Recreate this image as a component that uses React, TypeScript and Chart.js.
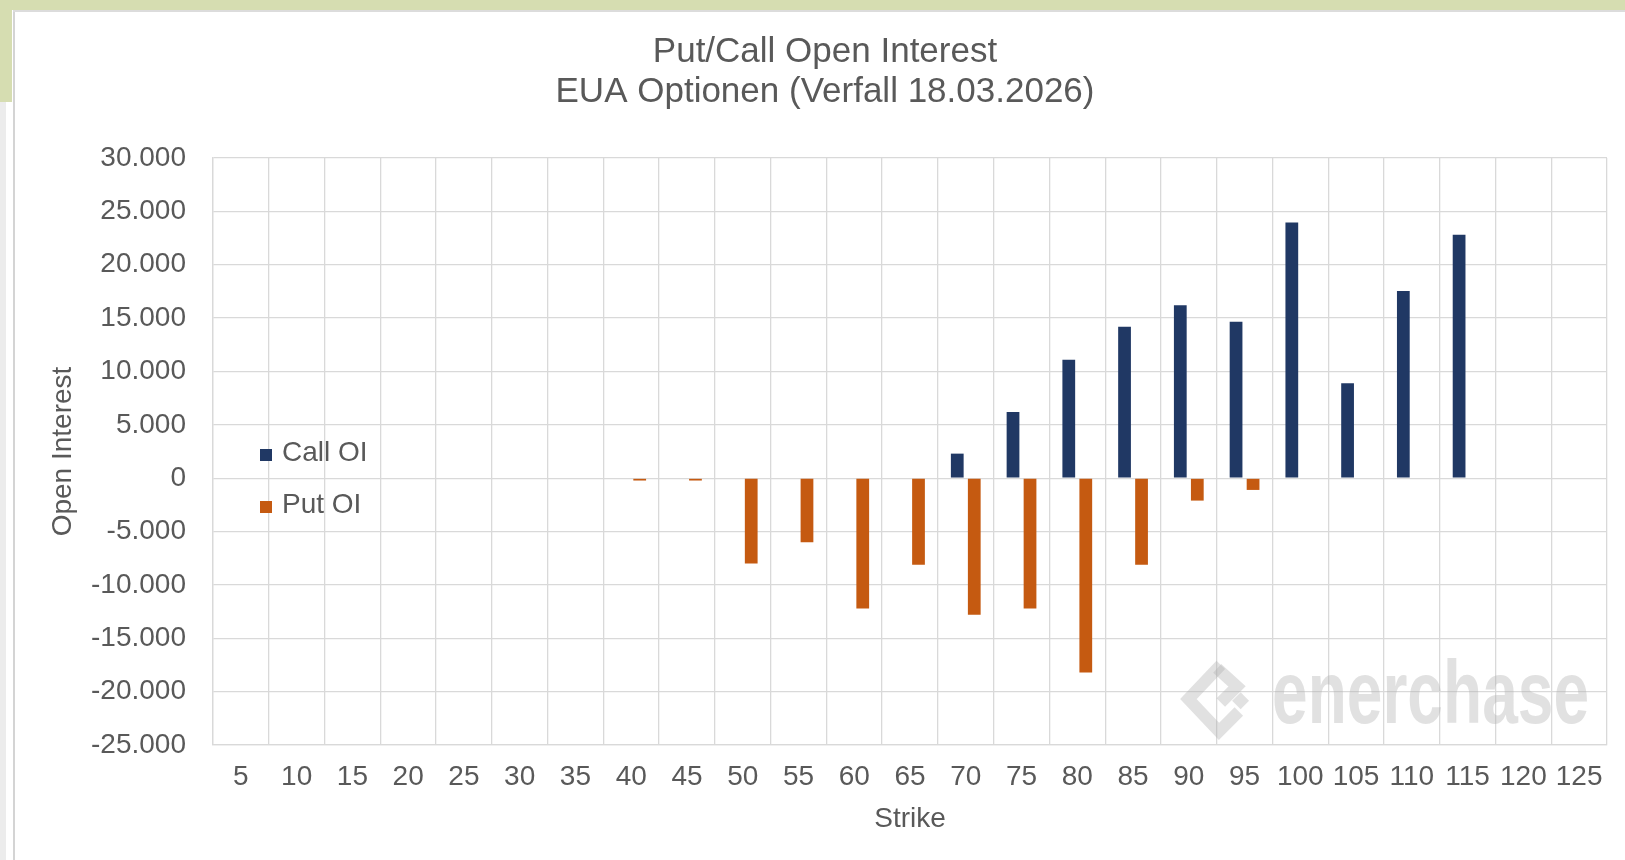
import React, { useEffect, useRef } from "react";
import { Chart, registerables } from "chart.js";

Chart.register(...registerables);

const strikes = ["5", "10", "15", "20", "25", "30", "35", "40", "45", "50", "55", "60", "65", "70", "75", "80", "85", "90", "95", "100", "105", "110", "115", "120", "125"];
const callOI = [null, null, null, null, null, null, null, null, null, null, null, null, null, 2300, 6200, 11100, 14200, 16200, 14650, 23950, 8900, 17550, 22800, null, null];
const putOI = [null, null, null, null, null, null, null, -220, -220, -8000, -6000, -12200, -8100, -12800, -12200, -18200, -8100, -2100, -1100, null, null, null, null, null, null];
const titleLines = ["Put/Call Open Interest", "EUA Optionen (Verfall 18.03.2026)"];
const seriesNames = ["Call OI", "Put OI"];
const seriesColors = ["#203864", "#C55A11"];

const FONT = "'Liberation Sans', Arial, sans-serif";
const TEXT = "#595959";
const GRID = "#d9d9d9";

function fmtDE(v: number): string {
  const neg = v < 0;
  const s = Math.abs(Math.round(v)).toString();
  const parts: string[] = [];
  for (let i = s.length; i > 0; i -= 3) parts.unshift(s.slice(Math.max(0, i - 3), i));
  return (neg ? "-" : "") + parts.join(".");
}

const overlayPlugin = {
  id: "overlay",
  afterDatasetsDraw(chart: any) {
    const ctx = chart.ctx as CanvasRenderingContext2D;
    const ca = chart.chartArea;
    ctx.save();
    // watermark
    const col = "rgba(175,175,175,0.38)";
    ctx.fillStyle = col;
    ctx.strokeStyle = col;
    const tx = ca.right - 335;
    const ty = ca.bottom - 22;
    ctx.save();
    ctx.translate(tx, ty);
    ctx.scale(0.72, 1);
    ctx.font = `bold 89px ${FONT}`;
    ctx.textBaseline = "alphabetic";
    ctx.textAlign = "left";
    ctx.fillText("enerchase", 0, 0);
    ctx.restore();
    const cx = tx - 53;
    const cy = ty - 24;
    const r = 36;
    ctx.lineWidth = 12;
    ctx.lineJoin = "miter";
    ctx.beginPath();
    ctx.moveTo(cx + 0.05 * r, cy - r * 0.95);
    ctx.lineTo(cx - r * 0.85, cy);
    ctx.lineTo(cx, cy + r * 0.9);
    ctx.lineTo(cx + r * 0.55, cy + r * 0.35);
    ctx.stroke();
    ctx.beginPath();
    ctx.moveTo(cx - 0.05 * r, cy - r * 0.85);
    ctx.lineTo(cx + r * 0.5, cy - r * 0.35);
    ctx.lineTo(cx + r * 0.05, cy + r * 0.1);
    ctx.stroke();
    ctx.save();
    ctx.translate(cx + r * 0.6, cy + r * 0.05);
    ctx.rotate(Math.PI / 4);
    ctx.fillRect(-6, -6, 12, 12);
    ctx.restore();
    ctx.restore();
  },
  afterDraw(chart: any) {
    const ctx = chart.ctx as CanvasRenderingContext2D;
    const ca = chart.chartArea;
    ctx.save();
    ctx.font = `28px ${FONT}`;
    ctx.textBaseline = "middle";
    ctx.textAlign = "left";
    const rows = [295, 347];
    seriesNames.forEach((name, i) => {
      const y = ca.top + rows[i];
      ctx.fillStyle = seriesColors[i];
      ctx.fillRect(ca.left + 47, y - 6 + 2, 12, 12);
      ctx.fillStyle = TEXT;
      ctx.fillText(name, ca.left + 69, y);
    });
    ctx.restore();
  },
};

export default function App() {
  const ref = useRef<HTMLCanvasElement | null>(null);

  useEffect(() => {
    if (!ref.current) return;
    const chart = new Chart(ref.current, {
      type: "bar",
      data: {
        labels: strikes,
        datasets: [
          {
            label: seriesNames[0],
            data: callOI as any,
            backgroundColor: seriesColors[0],
            borderWidth: 0,
            categoryPercentage: 0.61,
            barPercentage: 0.75,
          },
          {
            label: seriesNames[1],
            data: putOI as any,
            backgroundColor: seriesColors[1],
            borderWidth: 0,
            categoryPercentage: 0.61,
            barPercentage: 0.75,
          },
        ],
      },
      options: {
        responsive: false,
        animation: false,
        devicePixelRatio: 1,
        layout: { padding: { left: 43, right: 18, top: 0, bottom: 0 } },
        plugins: {
          legend: { display: false },
          tooltip: { enabled: false },
          title: {
            display: true,
            text: titleLines,
            color: TEXT,
            font: { family: FONT, size: 35, weight: "normal", lineHeight: 1.14 },
            padding: { top: 32.5, bottom: 45.7 },
          },
        },
        scales: {
          x: {
            grid: { offset: true, color: GRID, lineWidth: 1.3, drawTicks: false },
            border: { color: GRID, width: 1.3 },
            ticks: { color: TEXT, font: { family: FONT, size: 28 }, padding: 15, maxRotation: 0, autoSkip: false },
            title: {
              display: true,
              text: "Strike",
              color: TEXT,
              font: { family: FONT, size: 28 },
              padding: { top: 8, bottom: 24 },
            },
            afterFit: (s: any) => {
              s.height = 115;
            },
          },
          y: {
            min: -25000,
            max: 30000,
            grid: { color: GRID, lineWidth: 1.3, drawTicks: false },
            border: { color: GRID, width: 1.3 },
            ticks: {
              stepSize: 5000,
              color: TEXT,
              font: { family: FONT, size: 28 },
              padding: 27,
              callback: (v: any) => fmtDE(Number(v)),
            },
            title: {
              display: true,
              text: "Open Interest",
              color: TEXT,
              font: { family: FONT, size: 28 },
              padding: { top: 3, bottom: 10 },
            },
            afterFit: (s: any) => {
              s.width = 170;
            },
          },
        },
      },
      plugins: [overlayPlugin],
    } as any);
    return () => chart.destroy();
  }, []);

  return (
    <div style={{ position: "fixed", left: 0, top: 0, width: 1625, height: 860, background: "#ffffff", overflow: "hidden" }}>
      <div style={{ position: "absolute", left: 0, top: 0, width: 1625, height: 10, background: "#d6ddb1" }} />
      <div style={{ position: "absolute", left: 0, top: 0, width: 12, height: 102, background: "#d6ddb1" }} />
      <div style={{ position: "absolute", left: 0, top: 102, width: 6, height: 758, background: "#ececec" }} />
      <div style={{ position: "absolute", left: 13, top: 10, width: 1.5, height: 850, background: "#d4d4d4" }} />
      <div style={{ position: "absolute", left: 13, top: 10, width: 1612, height: 1.5, background: "#dcdcdc" }} />
      <canvas ref={ref} width={1625} height={860} style={{ position: "absolute", left: 0, top: 0 }} />
    </div>
  );
}
